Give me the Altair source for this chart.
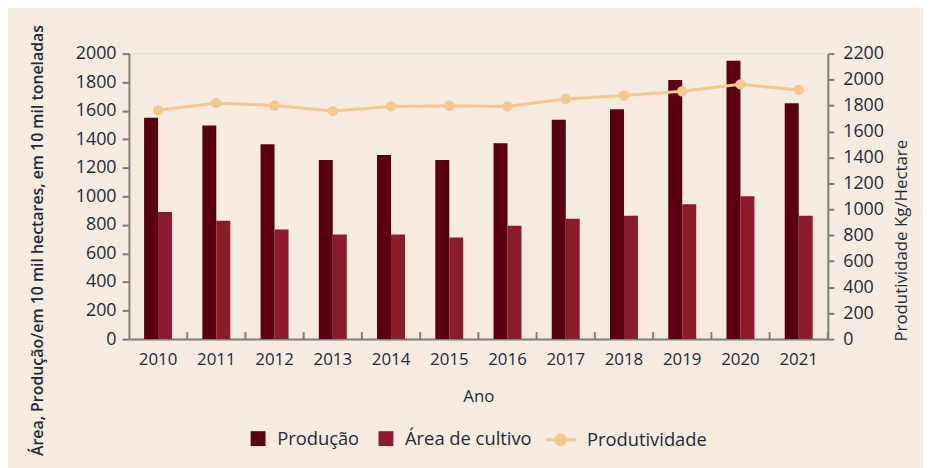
import altair as alt
import pandas as pd

# ---- data ----
anos = ["2010", "2011", "2012", "2013", "2014", "2015",
        "2016", "2017", "2018", "2019", "2020", "2021"]
producao = [1550, 1497, 1365, 1255, 1290, 1255, 1372, 1537, 1611, 1815, 1950, 1652]
area_cultivo = [891, 829, 768, 733, 733, 712, 795, 843, 864, 945, 1000, 864]
produtividade = [1763, 1820, 1800, 1757, 1793, 1798, 1793, 1850, 1877, 1910, 1963, 1920]
left_ticks = [0, 200, 400, 600, 800, 1000, 1200, 1400, 1600, 1800, 2000]
right_ticks = [0, 200, 400, 600, 800, 1000, 1200, 1400, 1600, 1800, 2000, 2200]

series = ["Produção", "Área de cultivo"]
bar_colors = ["#5B0012", "#8A1C2D"]
line_color = "#F4C88F"
bg = "#F5EBE0"
txt = "#1E2B3A"
axis_gray = "#7F7F7F"
FONT = "Open Sans"

bars_df = pd.DataFrame(
    [{"Ano": a, "Série": series[0], "Valor": p} for a, p in zip(anos, producao)]
    + [{"Ano": a, "Série": series[1], "Valor": v} for a, v in zip(anos, area_cultivo)]
)
line_df = pd.DataFrame({"Ano": anos, "Produtividade": produtividade,
                        "Serie": ["Produtividade"] * len(anos)})

W = 705
H = 288
TICK_LEN = 7

bars = alt.Chart(bars_df).mark_bar().encode(
    x=alt.X("Ano:N", sort=anos,
            scale=alt.Scale(paddingInner=0.52, paddingOuter=0.26),
            axis=alt.Axis(title="Ano", orient="bottom", ticks=False, labelAngle=0,
                          labelPadding=13, labelFontSize=17, labelColor=txt,
                          domainColor=axis_gray, domainWidth=2,
                          titleFontSize=17, titleFontWeight="normal", titleColor=txt,
                          titleY=58, titleBaseline="middle")),
    xOffset=alt.XOffset("Série:N", sort=series,
                        scale=alt.Scale(paddingInner=0, paddingOuter=0)),
    y=alt.Y("Valor:Q", scale=alt.Scale(domain=[0, 2000], nice=False),
            axis=alt.Axis(orient="left", values=left_ticks, grid=False, format="d",
                          title="Área, Produção/em 10 mil hectares, em 10 mil toneladas",
                          titleFontSize=16, titleFontWeight=600, titleColor=txt,
                          titleX=-92, titleY=188, titleAlign="center",
                          titleBaseline="middle", titleAngle=270,
                          labelFontSize=18, labelColor=txt, labelPadding=6,
                          tickSize=7, tickWidth=2, tickColor=axis_gray,
                          domainColor=axis_gray, domainWidth=2)),
    color=alt.Color("Série:N", sort=series,
                    scale=alt.Scale(domain=series, range=bar_colors),
                    legend=alt.Legend(orient="none", direction="horizontal",
                                      legendX=121, legendY=379, title=None,
                                      symbolType="square", symbolSize=225,
                                      symbolStrokeWidth=0, labelFontSize=18.5,
                                      labelColor=txt, labelOffset=10,
                                      columnPadding=17)),
)

band_scale = alt.Scale(type="band", paddingInner=0, paddingOuter=0)

line = alt.Chart(line_df).mark_line(
    color=line_color, strokeWidth=3,
    point=alt.OverlayMarkDef(filled=True, size=110, color=line_color, opacity=1),
).encode(
    x=alt.X("Ano:N", sort=anos, scale=band_scale, axis=None),
    y=alt.Y("Produtividade:Q", scale=alt.Scale(domain=[0, 2200], nice=False),
            axis=alt.Axis(orient="right", values=right_ticks, grid=False, format="d",
                          title="Produtividade Kg/Hectare",
                          titleFontSize=17, titleFontWeight=500, titleColor=txt,
                          titleAngle=270, titleX=66, titleY=H + 2, titleAlign="left",
                          titleBaseline="top",
                          labelFontSize=18, labelColor=txt, labelPadding=9,
                          tickSize=6, tickWidth=2, tickColor=axis_gray,
                          domainColor=axis_gray, domainWidth=2)),
    color=alt.Color("Serie:N",
                    scale=alt.Scale(domain=["Produtividade"], range=[line_color]),
                    legend=alt.Legend(orient="none", direction="horizontal",
                                      legendX=419, legendY=373, title=None,
                                      symbolType="M-1,0L1,0M-0.33,0A0.33,0.33,0,1,0,0.33,0A0.33,0.33,0,1,0,-0.33,0Z",
                                      symbolSize=900, symbolStrokeWidth=3,
                                      symbolStrokeColor=line_color,
                                      symbolFillColor=line_color,
                                      labelFontSize=18.5, labelColor=txt,
                                      labelOffset=10)),
)

# inward category-separator ticks on the x axis (at each band's right edge)
sep_ticks = alt.Chart(line_df).mark_rule(color=axis_gray, strokeWidth=2).encode(
    x=alt.X("Ano:N", sort=anos, scale=band_scale, bandPosition=1, axis=None),
    y=alt.value(H - TICK_LEN),
    y2=alt.value(H),
)

chart = alt.layer(bars, alt.layer(line, sep_ticks)).resolve_scale(
    x="independent", y="independent", color="independent"
).properties(
    width=W, height=H,
    background=bg,
    padding={"left": 122, "top": 44, "right": 96, "bottom": 128},
    autosize=alt.AutoSizeParams(type="none"),
).configure_view(stroke=None).configure(font=FONT)

chart.save("out.html", embed_options={"renderer": "svg", "actions": False})
